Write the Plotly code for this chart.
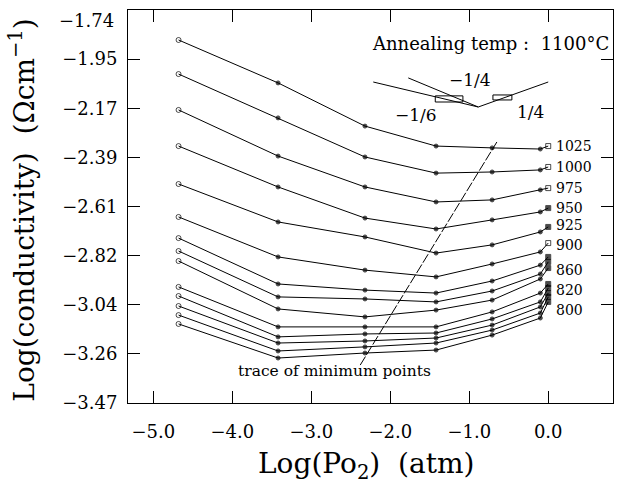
import plotly.graph_objects as go

# ---- data ----
log_po2 = [-4.68, -3.42, -2.32, -1.42, -0.71, -0.10, 0.0]

curves = [
    [-1.872, -2.061, -2.251, -2.339, -2.347, -2.352, -2.339],
    [-2.022, -2.215, -2.387, -2.458, -2.453, -2.444, -2.431],
    [-2.180, -2.383, -2.519, -2.585, -2.576, -2.532, -2.524],
    [-2.339, -2.519, -2.656, -2.704, -2.664, -2.629, -2.612],
    [-2.506, -2.673, -2.739, -2.810, -2.774, -2.717, -2.695],
    [-2.651, -2.827, -2.885, -2.915, -2.858, -2.805, -2.766],
    [-2.744, -2.946, -2.973, -2.986, -2.933, -2.863, -2.827],
    [-2.801, -3.003, -3.012, -3.025, -2.977, -2.902, -2.849],
    [-2.845, -3.056, -3.091, -3.061, -3.017, -2.924, -2.876],
    [-2.959, -3.135, -3.135, -3.135, -3.069, -2.986, -2.946],
    [-2.999, -3.179, -3.166, -3.162, -3.100, -3.025, -2.964],
    [-3.043, -3.206, -3.197, -3.184, -3.127, -3.047, -2.986],
    [-3.083, -3.241, -3.223, -3.206, -3.149, -3.074, -3.003],
    [-3.122, -3.272, -3.250, -3.237, -3.171, -3.096, -3.025],
]
end_open = [True, True, True, False, False, True, False, False, False, False, False, False, False, False]

temp_labels = ["1025", "1000", "975", "950", "925", "900", "860", "820", "800"]
label_curve = [0, 1, 2, 3, 4, 5, 8, 11, 13]
label_shift = [0, 0, 0, 0, 2, -2, -2, 3, -8]

trace_x = [-2.38, -0.65]
trace_y = [-3.303, -2.321]

y_tickvals = [-3.47, -3.25375, -3.0375, -2.82125, -2.605, -2.38875, -2.1725, -1.95625]
y_ticktext = ["−3.47", "−3.26", "−3.04", "−2.82", "−2.61", "−2.39", "−2.17", "−1.95"]
y_top_val, y_top_text = -1.74, "−1.74"
x_tickvals = [-5, -4, -3, -2, -1, 0]
x_ticktext = ["−5.0", "−4.0", "−3.0", "−2.0", "−1.0", "0.0"]

FONT = "DejaVu Serif"

fig = go.Figure()
for i, ys in enumerate(curves):
    n = len(ys)
    syms = ["circle-open"] + ["circle"] * (n - 2) + ["square-open" if end_open[i] else "square"]
    sizes = [5] + [4] * (n - 2) + [5]
    fig.add_trace(go.Scatter(
        x=log_po2, y=ys, mode="lines+markers",
        line=dict(color="black", width=1),
        marker=dict(symbol=syms, size=sizes, color="black",
                    line=dict(color="black", width=1)),
        showlegend=False, hoverinfo="x+y"))

fig.add_trace(go.Scatter(x=trace_x, y=trace_y, mode="lines",
                         line=dict(color="black", width=1, dash="10px,2px"),
                         showlegend=False, hoverinfo="skip"))

for lab, ci, sh in zip(temp_labels, label_curve, label_shift):
    fig.add_annotation(x=log_po2[-1], y=curves[ci][-1], text=lab, showarrow=False,
                       xanchor="left", xshift=6, yshift=sh,
                       font=dict(family=FONT, size=14, color="black"))

fig.add_annotation(xref="paper", yref="paper", x=0.995, y=0.915, text="Annealing temp :  1100°C",
                   showarrow=False, xanchor="right", yanchor="middle",
                   font=dict(family=FONT, size=18, color="black"))
fig.add_annotation(x=-2.70, y=-3.33, text="trace of minimum points", showarrow=False,
                   xanchor="center", yanchor="middle",
                   font=dict(family=FONT, size=15.5, color="black"))

# inset slope schematic
vx, vy = -0.886, -2.167
inset_lines = [(-2.215, -2.057), (-1.772, -2.039), (0.0, -2.057)]
for (sx, sy) in inset_lines:
    fig.add_shape(type="line", x0=sx, y0=sy, x1=vx, y1=vy, line=dict(color="black", width=1))
fig.add_shape(type="rect", x0=-1.43, y0=-2.118, x1=-1.08, y1=-2.145, line=dict(color="black", width=1))
fig.add_shape(type="rect", x0=-0.70, y0=-2.114, x1=-0.46, y1=-2.136, line=dict(color="black", width=1))
for txt, tx, ty in [("−1/4", -0.99, -2.05), ("−1/6", -1.67, -2.20), ("1/4", -0.23, -2.19)]:
    fig.add_annotation(x=tx, y=ty, text=txt, showarrow=False,
                       font=dict(family=FONT, size=17, color="black"))

# top y tick label (drawn slightly below the frame corner, as in the original)
fig.add_annotation(xref="paper", x=0, y=y_top_val, text=y_top_text, showarrow=False,
                   xanchor="right", yanchor="middle", xshift=-12, yshift=-10,
                   font=dict(family=FONT, size=18, color="black"))

fig.add_annotation(xref="paper", yref="paper", x=-0.218, y=0.49, text="Log(conductivity)  (Ωcm<sup>−1</sup>)",
                   textangle=-90, showarrow=False, xanchor="center", yanchor="middle",
                   font=dict(family=FONT, size=28, color="black"))
fig.add_annotation(xref="paper", yref="paper", x=0.49, y=-0.158, text="Log(Po<sub>2</sub>)  (atm)",
                   showarrow=False, xanchor="center", yanchor="middle",
                   font=dict(family=FONT, size=28, color="black"))

axis_common = dict(showline=True, linecolor="black", linewidth=1, mirror="ticks",
                   ticks="inside", ticklen=12, tickcolor="black", tickwidth=1,
                   showgrid=False, zeroline=False,
                   tickfont=dict(family=FONT, size=18, color="black"))
fig.update_xaxes(range=[-5.32, 0.82], tickvals=x_tickvals, ticktext=x_ticktext,
                 ticklabelstandoff=12, **axis_common)
fig.update_yaxes(range=[-3.47, -1.74], tickvals=y_tickvals, ticktext=y_ticktext,
                 ticklabelstandoff=6, **axis_common)

fig.update_layout(width=625, height=495, margin=dict(l=128, r=12, t=10, b=92),
                  paper_bgcolor="white", plot_bgcolor="white", showlegend=False)

fig.write_html("out.html")
